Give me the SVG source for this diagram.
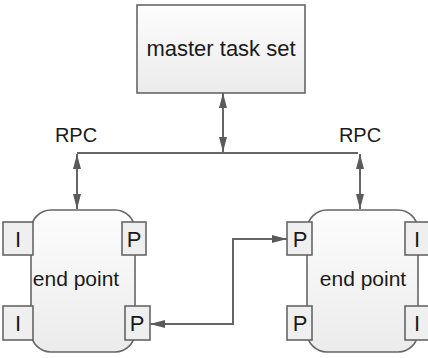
<svg xmlns="http://www.w3.org/2000/svg" width="428" height="358" viewBox="0 0 428 358">
<style>
text{font-family:"Liberation Sans",Arial,sans-serif;fill:#1a1a1a}
.ln{stroke:#666;stroke-width:2;fill:none}
.box{stroke:#666;stroke-width:1.6}
.port{fill:#efefef;stroke:#666;stroke-width:1.6}
.pl{font-size:22px;text-anchor:middle}
</style>
<defs>
<linearGradient id="g" x1="0" y1="0" x2="0" y2="1"><stop offset="0" stop-color="#fdfdfd"/><stop offset="1" stop-color="#ebebeb"/></linearGradient>
<marker id="ah" viewBox="0 0 15 8" refX="15" refY="4" markerWidth="15" markerHeight="8" orient="auto-start-reverse" markerUnits="userSpaceOnUse"><path d="M0,0L15,4L0,8z" fill="#5a5a5a"/></marker>
</defs>
<g id="connectors">
<path class="ln" d="M77,153H358"/>
<path class="ln" d="M223,93V152" marker-start="url(#ah)" marker-end="url(#ah)"/>
<path class="ln" d="M77,154V209" marker-start="url(#ah)" marker-end="url(#ah)"/>
<path class="ln" d="M360,154V209" marker-start="url(#ah)" marker-end="url(#ah)"/>
<path class="ln" d="M287,239H233V324H150" marker-start="url(#ah)" marker-end="url(#ah)"/>
</g>
<g id="master">
<rect class="box" x="137" y="5" width="168" height="88" fill="url(#g)"/>
<text x="221" y="56" font-size="22" text-anchor="middle">master task set</text>
</g>
<g id="rpc-left"><text x="76" y="142" font-size="20" text-anchor="middle">RPC</text></g>
<g id="rpc-right"><text x="360" y="142" font-size="20" text-anchor="middle">RPC</text></g>
<g id="endpoint-left">
<rect class="box" x="31" y="210" width="104" height="142" rx="20" fill="url(#g)"/>
<text x="76" y="286" font-size="21" text-anchor="middle">end point</text>
<rect class="port" x="3" y="222" width="30" height="33"/><text class="pl" x="18" y="247">I</text>
<rect class="port" x="122" y="222" width="24" height="33"/><text class="pl" x="134" y="247">P</text>
<rect class="port" x="3" y="306" width="30" height="34"/><text class="pl" x="18" y="331">I</text>
<rect class="port" x="125" y="306" width="25" height="34"/><text class="pl" x="137" y="331">P</text>
</g>
<g id="endpoint-right">
<rect class="box" x="307" y="210" width="111" height="142" rx="20" fill="url(#g)"/>
<text x="363" y="286" font-size="21" text-anchor="middle">end point</text>
<rect class="port" x="287" y="222" width="25" height="33"/><text class="pl" x="300" y="247">P</text>
<rect class="port" x="405" y="222" width="30" height="33"/><text class="pl" x="417" y="247">I</text>
<rect class="port" x="287" y="306" width="25" height="34"/><text class="pl" x="300" y="331">P</text>
<rect class="port" x="405" y="306" width="30" height="34"/><text class="pl" x="417" y="331">I</text>
</g>
</svg>
